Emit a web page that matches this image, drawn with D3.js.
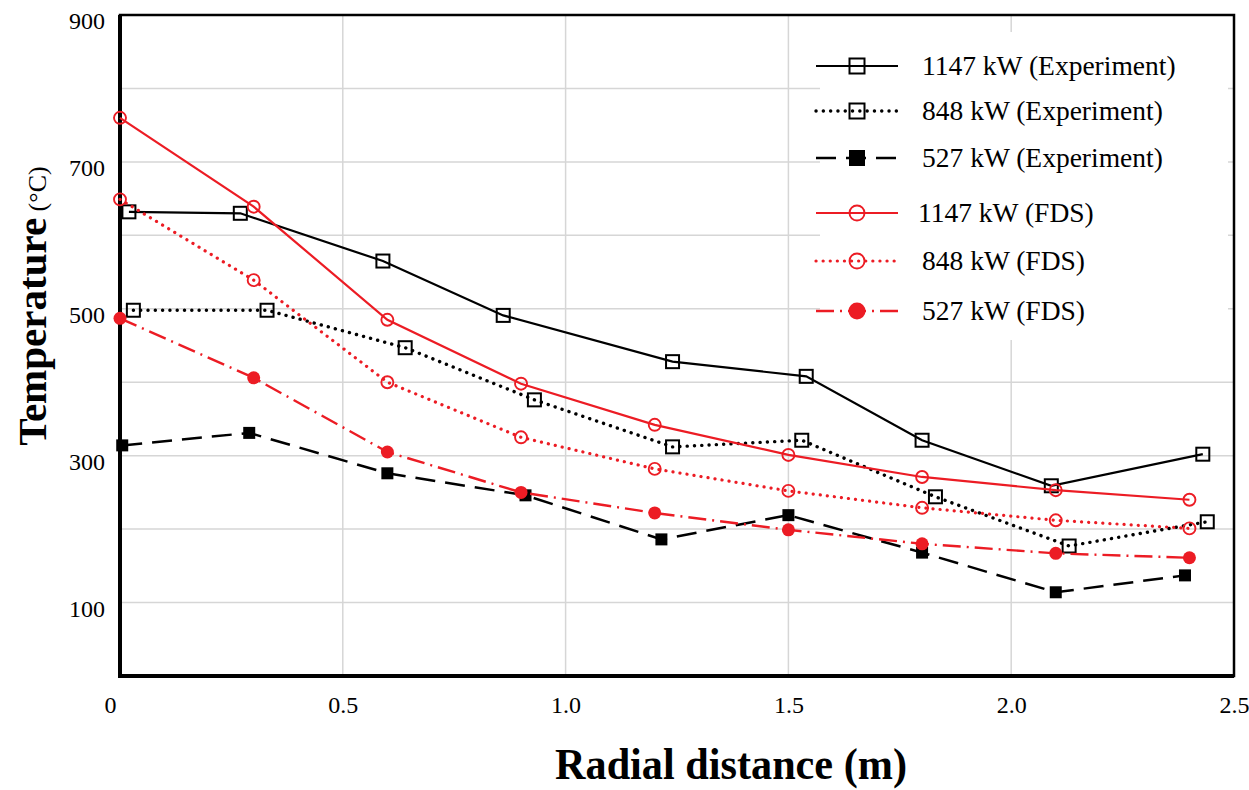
<!DOCTYPE html>
<html>
<head>
<meta charset="utf-8">
<script src="https://cdn.jsdelivr.net/npm/d3@7"></script>
<style>
  body { margin: 0; background: #fff; }
  svg { display: block; font-family: "Liberation Serif", "Times New Roman", serif; }
</style>
</head>
<body>
<svg id="chart" width="1249" height="790"></svg>
<script>
// ---- data: ceiling-jet temperature vs. radial distance ----
const seriesNames = [
  "1147 kW (Experiment)", "848 kW (Experiment)", "527 kW (Experiment)",
  "1147 kW (FDS)", "848 kW (FDS)", "527 kW (FDS)"
];

const xExp1147 = [0.02, 0.27, 0.59, 0.86, 1.24, 1.54, 1.80, 2.09, 2.43];
const tExp1147 = [632, 630, 565, 491, 428, 408, 321, 259, 302];

const xExp848 = [0.03, 0.33, 0.64, 0.93, 1.24, 1.53, 1.83, 2.13, 2.44];
const tExp848 = [498, 498, 447, 376, 312, 321, 244, 177, 210];

const xExp527 = [0.005, 0.29, 0.60, 0.91, 1.215, 1.50, 1.80, 2.10, 2.39];
const tExp527 = [314, 331, 276, 246, 186, 219, 168, 114, 137];

const xFds = [0, 0.3, 0.6, 0.9, 1.2, 1.5, 1.8, 2.1, 2.4];
const tFds1147 = [760, 639, 485, 398, 342, 301, 271, 253, 240];
const tFds848 = [649, 539, 400, 325, 282, 252, 229, 212, 201];
const tFds527 = [487, 406, 305, 250, 222, 199, 180, 167, 161];

const xTicks = [0, 0.5, 1.0, 1.5, 2.0, 2.5];
const xTickLabels = ["0", "0.5", "1.0", "1.5", "2.0", "2.5"];
const yTicks = [100, 300, 500, 700, 900];
const yTickLabels = ["100", "300", "500", "700", "900"];
const yGridValues = [100, 200, 300, 400, 500, 600, 700, 800];
const xGridValues = [0.5, 1.0, 1.5, 2.0];

const xTitle = "Radial distance (m)";
const yTitleMain = "Temperature";
const yTitleUnit = " (°C)";

// ---- layout ----
const svg = d3.select("#chart");
const plot = { left: 120, right: 1234, top: 15, bottom: 676 };
const x = d3.scaleLinear().domain([0, 2.5]).range([plot.left, plot.right]);
const y = d3.scaleLinear().domain([0, 900]).range([plot.bottom, plot.top]);

const RED = "#ec1c24";
const looks = [
  { color: "#000", width: 2.2, dash: null,       cap: "butt",  marker: "square", fill: "none", size: 13, lsize: 15 },
  { color: "#000", width: 3.4, dash: "0.1 7.2",  cap: "round", marker: "square", fill: "none", size: 13, lsize: 15 },
  { color: "#000", width: 2.5, dash: "20 10",    cap: "butt",  marker: "square", fill: "#000", size: 12, lsize: 16 },
  { color: RED,    width: 2.2, dash: null,       cap: "butt",  marker: "circle", fill: "none", size: 12, lsize: 15 },
  { color: RED,    width: 3.2, dash: "0.1 7",    cap: "round", marker: "circle", fill: "none", size: 12, lsize: 15 },
  { color: RED,    width: 2.4, dash: "18 6 2 6", cap: "butt",  marker: "circle", fill: RED,    size: 13, lsize: 17 }
];

const series = [
  [xExp1147, tExp1147], [xExp848, tExp848], [xExp527, tExp527],
  [xFds, tFds1147], [xFds, tFds848], [xFds, tFds527]
].map(([xs, ts], i) => ({
  name: seriesNames[i],
  look: looks[i],
  points: xs.map((v, j) => ({ x: v, t: ts[j] }))
}));

// ---- grid ----
const grid = svg.append("g").attr("stroke", "#d6d6d6").attr("stroke-width", 1.5);
grid.selectAll("line.h").data(yGridValues).join("line")
  .attr("x1", plot.left).attr("x2", plot.right)
  .attr("y1", d => y(d)).attr("y2", d => y(d));
grid.selectAll("line.v").data(xGridValues).join("line")
  .attr("x1", d => x(d)).attr("x2", d => x(d))
  .attr("y1", plot.top).attr("y2", plot.bottom);

// legend panel sits over the grid
const legendBox = { x: 820, y: 32, w: 408, h: 308 };
svg.append("rect")
  .attr("x", legendBox.x).attr("y", legendBox.y)
  .attr("width", legendBox.w).attr("height", legendBox.h)
  .attr("fill", "#fff");

// ---- frame ----
svg.append("rect")
  .attr("x", plot.left).attr("y", plot.top)
  .attr("width", plot.right - plot.left).attr("height", plot.bottom - plot.top)
  .attr("fill", "none").attr("stroke", "#000").attr("stroke-width", 2.5);
svg.append("path")
  .attr("d", `M${plot.left},${plot.top}V${plot.bottom}H${plot.right}`)
  .attr("fill", "none").attr("stroke", "#000").attr("stroke-width", 4);

// ---- axes ----
const xAxis = d3.axisBottom(x).tickValues(xTicks).tickSize(0).tickPadding(20)
  .tickFormat((d, i) => xTickLabels[i]);
const gx = svg.append("g").attr("transform", `translate(0,${plot.bottom})`).call(xAxis);
gx.select(".domain").remove();
gx.selectAll("text").attr("font-size", 24).attr("fill", "#000")
  .attr("font-family", "Liberation Serif, serif")
  .attr("dx", (d, i) => i === 0 ? -10 : 0);

const yAxis = d3.axisLeft(y).tickValues(yTicks).tickSize(0).tickPadding(15)
  .tickFormat((d, i) => yTickLabels[i]);
const gy = svg.append("g").attr("transform", `translate(${plot.left},0)`).call(yAxis);
gy.select(".domain").remove();
gy.selectAll("text").attr("font-size", 24).attr("fill", "#000")
  .attr("font-family", "Liberation Serif, serif").attr("dy", "0.58em");

// ---- titles ----
svg.append("text")
  .attr("x", 731).attr("y", 779)
  .attr("text-anchor", "middle")
  .attr("font-size", 44).attr("font-weight", "bold")
  .attr("textLength", 352).attr("lengthAdjust", "spacingAndGlyphs")
  .text(xTitle);

const yt = svg.append("text")
  .attr("transform", "translate(46,306) rotate(-90)")
  .attr("text-anchor", "middle");
yt.append("tspan").attr("font-size", 41).attr("font-weight", "bold").text(yTitleMain);
yt.append("tspan").attr("font-size", 26).text(yTitleUnit);

// ---- series ----
const line = d3.line().x(d => x(d.x)).y(d => y(d.t));

function drawMarker(g, look, cx, cy, size) {
  if (look.marker === "square") {
    g.append("rect")
      .attr("x", cx - size / 2).attr("y", cy - size / 2)
      .attr("width", size).attr("height", size)
      .attr("fill", look.fill)
      .attr("stroke", look.fill === "none" ? look.color : "none")
      .attr("stroke-width", 2);
  } else {
    g.append("circle")
      .attr("cx", cx).attr("cy", cy).attr("r", size / 2)
      .attr("fill", look.fill)
      .attr("stroke", look.fill === "none" ? look.color : "none")
      .attr("stroke-width", 1.9);
  }
}

series.forEach(s => {
  const g = svg.append("g");
  g.append("path")
    .datum(s.points)
    .attr("d", line)
    .attr("fill", "none")
    .attr("stroke", s.look.color)
    .attr("stroke-width", s.look.width)
    .attr("stroke-linecap", s.look.cap)
    .attr("stroke-dasharray", s.look.dash);
  s.points.forEach(p => drawMarker(g, s.look, x(p.x), y(p.t), s.look.size));
});

// ---- legend ----
const legendRows = [66, 111, 158, 213, 261, 311];
const legend = svg.append("g");
series.forEach((s, i) => {
  const ly = legendRows[i];
  const g = legend.append("g");
  g.append("line")
    .attr("x1", 816).attr("x2", 898).attr("y1", ly).attr("y2", ly)
    .attr("stroke", s.look.color)
    .attr("stroke-width", s.look.width)
    .attr("stroke-linecap", s.look.cap)
    .attr("stroke-dasharray", s.look.dash);
  drawMarker(g, s.look, 857, ly, s.look.lsize);
  g.append("text")
    .attr("x", i === 3 ? 918 : 922).attr("y", ly + 9)
    .attr("font-size", 27.5).attr("fill", "#000")
    .text(s.name);
});
</script>
</body>
</html>
